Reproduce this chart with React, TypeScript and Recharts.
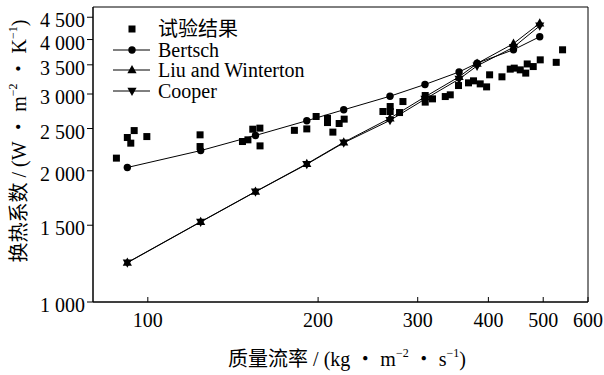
import { ComposedChart, Line, Scatter, XAxis, YAxis, ReferenceArea, Legend } from 'recharts';

// model correlations, evaluated at the same mass fluxes
const modelFlux = [92, 124, 155, 191, 222, 268, 309, 355, 382, 443, 493];
const bertsch = [2035, 2225, 2410, 2605, 2760, 2965, 3155, 3370, 3530, 3790, 4060];
const liuWinterton = [1232, 1528, 1792, 2075, 2325, 2640, 2955, 3285, 3525, 3915, 4360];
const cooper = [1230, 1526, 1790, 2070, 2318, 2610, 2920, 3245, 3480, 3840, 4300];

// experimental points
const expFlux = [
  88, 92, 93.3, 94.6, 99.6, 123.7, 123.7, 147, 150.3, 153.3, 157.8, 157.9, 181.6, 191, 198.4, 207.8,
  207.8, 212.4, 217.9, 222.4, 260.4, 268.2, 268.2, 278.6, 282.5, 309.3, 309.3, 318.6, 335.6, 342.5,
  354.2, 368.9, 376.5, 386.9, 397.1, 402, 422.7, 437.2, 444.4, 455.4, 465.7, 468.5, 480.1, 494, 527.2, 541,
];
const expHtc = [
  2138, 2384, 2314, 2473, 2396, 2418, 2273, 2334, 2355, 2491, 2505, 2281, 2476, 2495, 2664, 2638,
  2580, 2453, 2567, 2627, 2735, 2808, 2735, 2720, 2883, 2976, 2874, 2924, 2960, 2987,
  3137, 3182, 3216, 3165, 3115, 3320, 3285, 3421, 3439, 3408, 3350, 3516, 3468, 3593, 3546, 3789,
];

const xTicks = [100, 200, 300, 400, 500, 600];
const yTicks = [1000, 1500, 2000, 2500, 3000, 3500, 4000, 4500];

const modelData = modelFlux.map((g, i) => ({
  g,
  bertsch: bertsch[i],
  liu: liuWinterton[i],
  cooper: cooper[i],
}));
const expData = expFlux.map((g, i) => ({ g, h: expHtc[i] }));

const FONT = '"Liberation Serif", "Noto Sans CJK SC", serif';
const CJK = '"Noto Sans CJK SC", sans-serif';

const Square = ({ cx, cy }: any) => <rect x={cx - 3.5} y={cy - 3.5} width={7} height={7} fill="#000" />;
const Dot = ({ cx, cy }: any) => <circle cx={cx} cy={cy} r={3.7} fill="#000" />;
const TriUp = ({ cx, cy }: any) => (
  <path d={`M${cx},${cy - 5} L${cx + 4.6},${cy + 3.3} L${cx - 4.6},${cy + 3.3}Z`} fill="#000" />
);
const TriDown = ({ cx, cy }: any) => (
  <path d={`M${cx},${cy + 5} L${cx + 4.6},${cy - 3.3} L${cx - 4.6},${cy - 3.3}Z`} fill="#000" />
);

const fmt = (v: number) => (v >= 1000 ? `${Math.floor(v / 1000)} ${String(v % 1000).padStart(3, '0')}` : String(v));

const legendItems = [
  { name: '试验结果', Marker: Square, line: false },
  { name: 'Bertsch', Marker: Dot, line: true },
  { name: 'Liu and Winterton', Marker: TriUp, line: true },
  { name: 'Cooper', Marker: TriDown, line: true },
];

function ChartLegend() {
  return (
    <div style={{ fontFamily: FONT, fontSize: 20, color: '#000' }}>
      {legendItems.map(({ name, Marker, line }) => (
        <div key={name} style={{ display: 'flex', alignItems: 'center', height: 20.5 }}>
          <svg width={48} height={20}>
            {line && <line x1={3} x2={40} y1={10} y2={10} stroke="#000" strokeWidth={1} />}
            <Marker cx={22} cy={10} />
          </svg>
          <span style={{ lineHeight: '20px' }}>{name}</span>
        </div>
      ))}
    </div>
  );
}

function XTitle() {
  return (
    <text x={347} y={366} textAnchor="middle" fontFamily={FONT} fontSize={20} fill="#000">
      <tspan fontFamily={CJK}>质量流率</tspan>
      <tspan> / (kg </tspan>
      <tspan fontFamily={CJK}>•</tspan>
      <tspan> m</tspan>
      <tspan fontSize={12} dy={-9}>−2</tspan>
      <tspan dy={9}> </tspan>
      <tspan fontFamily={CJK}>•</tspan>
      <tspan> s</tspan>
      <tspan fontSize={12} dy={-9}>−1</tspan>
      <tspan dy={9}>)</tspan>
    </text>
  );
}

function YTitle() {
  return (
    <text transform="translate(25.5,141) rotate(-90)" x={0} y={0} textAnchor="middle" fontFamily={FONT} fontSize={20} fill="#000">
      <tspan fontFamily={CJK}>换热系数</tspan>
      <tspan> / (W </tspan>
      <tspan fontFamily={CJK}>•</tspan>
      <tspan> m</tspan>
      <tspan fontSize={12} dy={-9}>−2</tspan>
      <tspan dy={9}> </tspan>
      <tspan fontFamily={CJK}>•</tspan>
      <tspan> K</tspan>
      <tspan fontSize={12} dy={-9}>−1</tspan>
      <tspan dy={9}>)</tspan>
    </text>
  );
}

export default function App() {
  return (
    <div style={{ position: 'absolute', left: 0, top: 0, background: '#fff' }}>
      <ComposedChart width={604} height={375} margin={{ top: 7, right: 16, bottom: 0, left: 0 }}>
        <XAxis
          dataKey="g"
          type="number"
          scale="log"
          domain={[80, 600]}
          ticks={xTicks}
          interval={0}
          allowDataOverflow
          height={73}
          tickSize={-5}
          tickMargin={15.5}
          stroke="#000"
          tick={{ fill: '#000', fontSize: 20, fontFamily: FONT }}
          label={<XTitle />}
        />
        <YAxis
          type="number"
          scale="log"
          domain={[1000, 4750]}
          ticks={yTicks}
          interval={0}
          allowDataOverflow
          width={93}
          tickSize={6}
          tickMargin={2}
          stroke="#000"
          tickFormatter={fmt}
          tick={{ fill: '#000', fontSize: 20, fontFamily: FONT, dy: 3 }}
          label={<YTitle />}
        />
        <ReferenceArea x1={80} x2={600} y1={1000} y2={4750} fill="none" stroke="#000" strokeWidth={1} />
        <Scatter data={expData} dataKey="h" shape={<Square />} isAnimationActive={false} />
        <Line data={modelData} dataKey="bertsch" stroke="#000" strokeWidth={1} isAnimationActive={false}
          dot={(p: any) => <Dot key={`b${p.index}`} cx={p.cx} cy={p.cy} />} />
        <Line data={modelData} dataKey="liu" stroke="#000" strokeWidth={1} isAnimationActive={false}
          dot={(p: any) => <TriUp key={`l${p.index}`} cx={p.cx} cy={p.cy} />} />
        <Line data={modelData} dataKey="cooper" stroke="#000" strokeWidth={1} isAnimationActive={false}
          dot={(p: any) => <TriDown key={`c${p.index}`} cx={p.cx} cy={p.cy} />} />
        <Legend
          layout="vertical"
          align="center"
          verticalAlign="middle"
          content={<ChartLegend />}
          wrapperStyle={{ left: 110, top: 19, width: 'auto' }}
        />
      </ComposedChart>
    </div>
  );
}
